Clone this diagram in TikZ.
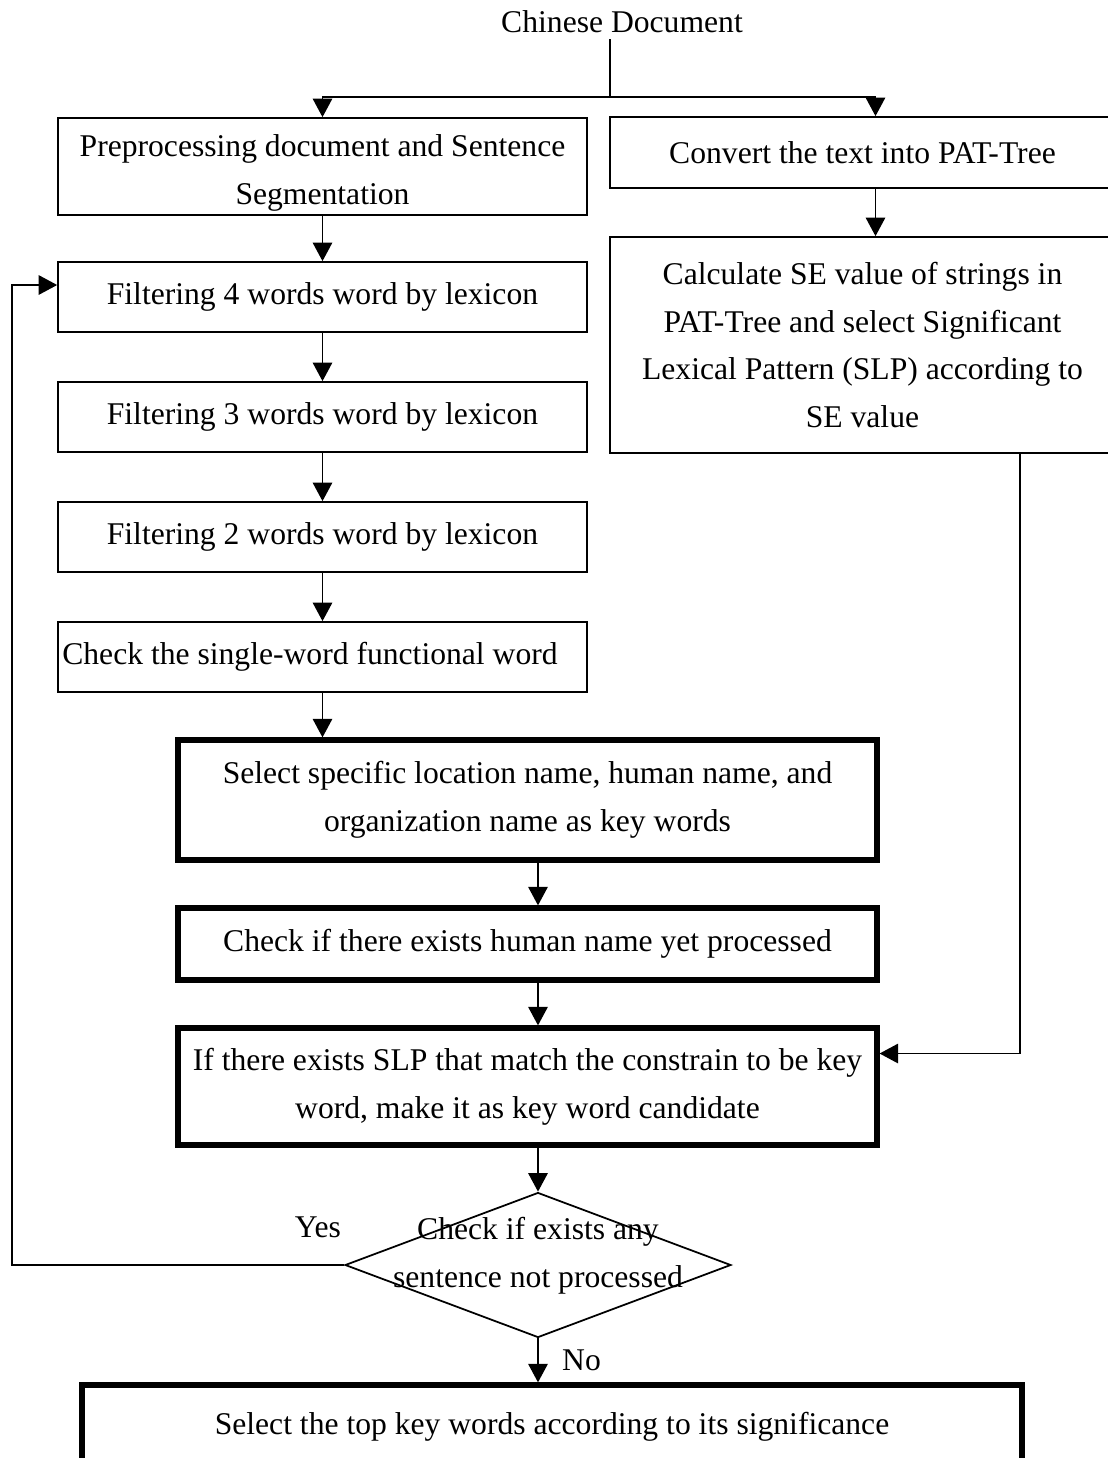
\documentclass[tikz,border=0pt]{standalone}
\usepackage{fontspec}
\setmainfont{Liberation Serif}
\usepackage{tikz}
\usetikzlibrary{arrows.meta, positioning, shapes.geometric}
\tikzset{
  arrowK/.style={-{Triangle[length=10.5pt, width=11pt]}, black, line width=1pt},
  lineK/.style={black, line width=1pt},
  boxT/.style={rectangle, draw=black, line width=1pt, align=center,
               inner sep=2pt, minimum width=10.58cm, minimum height=1.4cm},
  boxR/.style={rectangle, draw=black, line width=1pt, align=center,
               inner sep=2pt, minimum width=10.1cm},
  boxK/.style={rectangle, draw=black, line width=3pt, align=center,
               inner sep=2pt, minimum width=13.98cm},
  decide/.style={diamond, draw=black, line width=1pt, inner sep=0pt,
                 minimum width=7.72cm, minimum height=2.9cm},
}

\begin{document}
\begin{tikzpicture}[x=0.02cm, y=-0.02cm, font=\fontsize{18}{27.2}\selectfont]
  \useasboundingbox (0,0) rectangle (1108,1458);
  \node (doc) at (622,22) {Chinese Document};
  \coordinate (split) at (610,97);
  % left column
  \node[boxT, minimum height=1.94cm] (pre) at (322.5,166.5) {\\[-0.25cm]Preprocessing document and Sentence\\Segmentation};
  \node[boxT] (f4) at (322.5,297) {Filtering 4 words word by lexicon};
  \node[boxT] (f3) at (322.5,417) {Filtering 3 words word by lexicon};
  \node[boxT] (f2) at (322.5,537) {Filtering 2 words word by lexicon};
  \node[boxT] (single) at (322.5,657) {\hspace*{-0.5cm}Check the single-word functional word};
  % right column
  \node[boxR, minimum height=1.42cm] (conv) at (862.5,152.5) {Convert the text into PAT-Tree};
  \node[boxR, minimum height=4.32cm] (calc) at (862.5,345) {Calculate SE value of strings in\\PAT-Tree and select Significant\\Lexical Pattern (SLP) according to\\SE value};
  % thick boxes
  \node[boxK, minimum height=2.4cm] (sel) at (527.5,800) {Select specific location name, human name, and\\organization name as key words};
  \node[boxK, minimum height=1.44cm] (human) at (527.5,944) {Check if there exists human name yet processed};
  \node[boxK, minimum height=2.34cm] (slp) at (527.5,1086.5) {If there exists SLP that match the constrain to be key\\word, make it as key word candidate};
  \node[decide] (chk) at (538,1265) {};
  \node[align=center] (chktext) at (538,1256) {Check if exists any\\sentence not processed};
  \node (yes) at (318,1227) {Yes};
  \node[boxK, minimum width=18.8cm, minimum height=1.68cm] (final) at (552,1427) {Select the top key words according to its significance};
  \coordinate (loop) at (12,1265);

  \draw[lineK] (doc.south -| split) -- (split);
  \draw[arrowK] (split) -| (pre.north);
  \draw[arrowK] (split) -| ([xshift=0.26cm]conv.north);
  \draw[arrowK] ([xshift=0.26cm]conv.south) -- ([xshift=0.26cm]calc.north);
  \draw[arrowK] (pre) -- (f4); \draw[arrowK] (f4) -- (f3); \draw[arrowK] (f3) -- (f2); \draw[arrowK] (f2) -- (single);
  \draw[arrowK] (single.south) -- (single.south |- sel.north);
  \draw[arrowK] (sel.south -| chk) -- (human.north -| chk);
  \draw[arrowK] (human.south -| chk) -- (slp.north -| chk);
  \draw[arrowK] (slp.south -| chk) -- (chk.north);
  \draw[arrowK] ([xshift=3.15cm]calc.south) |- ([yshift=0.66cm]slp.east);
  \draw[arrowK] (chk.west) -- (loop) |- ([yshift=0.24cm]f4.west);
  \draw[arrowK] (chk.south) -- (chk.south |- final.north)
    node[midway, right, xshift=0.35cm] {No};
\end{tikzpicture}
\end{document}
